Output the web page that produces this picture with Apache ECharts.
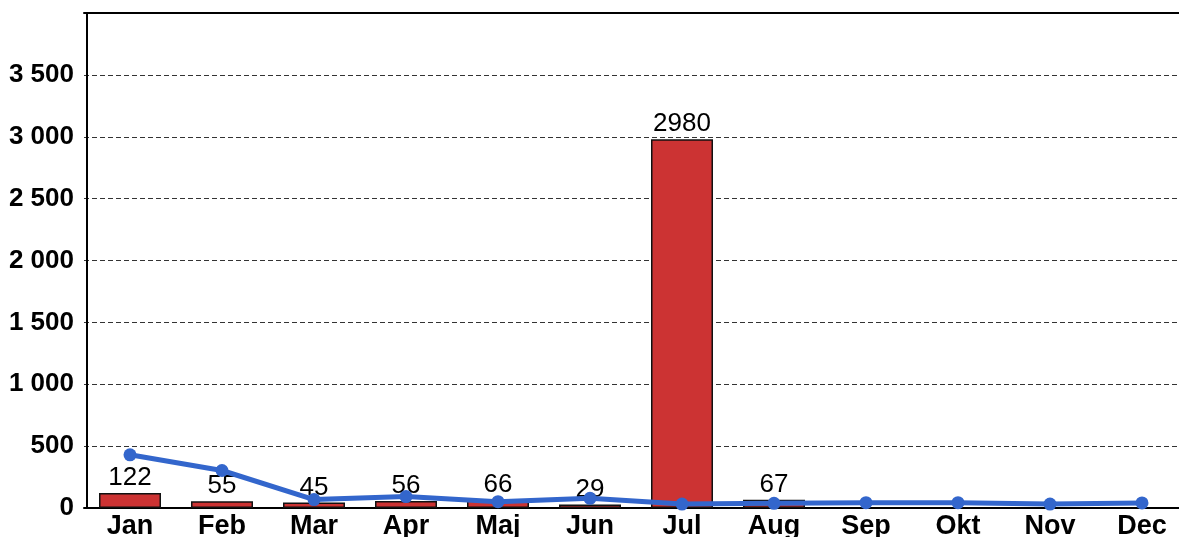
<!DOCTYPE html>
<html>
<head>
<meta charset="utf-8">
<script src="https://cdn.jsdelivr.net/npm/echarts@6/dist/echarts.min.js"></script>
<style>
  html, body { margin: 0; padding: 0; background: #fff; }
  #chart { width: 1179px; height: 537px; }
</style>
</head>
<body>
<div id="chart"></div>
<script>
var months = ['Jan', 'Feb', 'Mar', 'Apr', 'Maj', 'Jun', 'Jul', 'Aug', 'Sep', 'Okt', 'Nov', 'Dec'];
var barValues = [122, 55, 45, 56, 66, 29, 2980, 67, null, null, null, null];
var lineValues = [430, 303, 68, 92, 51, 78, 32, 38, 43, 43, 32, 41];

var chart = echarts.init(document.getElementById('chart'));
var font = 'Liberation Sans, Arial, sans-serif';

chart.setOption({
  animation: false,
  grid: { left: 84, width: 1104, top: 13, bottom: 29, outerBoundsMode: 'none' },
  xAxis: [
    {
      type: 'category',
      data: months,
      axisLine: { lineStyle: { color: '#000', width: 2 } },
      axisTick: { show: false },
      axisLabel: {
        color: '#000', fontWeight: 'bold', fontSize: 27,
        fontFamily: font, margin: 5
      }
    },
    {
      type: 'category',
      data: months,
      position: 'top',
      axisLine: { lineStyle: { color: '#000', width: 2 } },
      axisTick: { show: false },
      axisLabel: { show: false }
    }
  ],
  yAxis: {
    type: 'value',
    min: 0,
    max: 4000,
    interval: 500,
    offset: -3,
    axisLine: { show: true, lineStyle: { color: '#000', width: 2 } },
    axisTick: { show: false },
    axisLabel: {
      color: '#000', fontWeight: 'bold', fontSize: 26, fontFamily: font, margin: 13,
      formatter: function (v) {
        if (v >= 4000) return '';
        return String(v).replace(/\B(?=(\d{3})+(?!\d))/g, ' ');
      }
    },
    splitLine: {
      lineStyle: { color: '#333', type: [5, 3], width: 1 }
    }
  },
  series: [
    {
      type: 'bar',
      data: barValues,
      barWidth: 62,
      itemStyle: { color: '#cc3333', borderColor: '#111', borderWidth: 1.5 },
      label: {
        show: true, position: 'top', distance: 2,
        color: '#000', fontSize: 26, fontFamily: font
      }
    },
    {
      type: 'line',
      data: lineValues,
      symbol: 'circle',
      symbolSize: 13,
      lineStyle: { color: '#3366cc', width: 5 },
      itemStyle: { color: '#3366cc' },
      z: 3
    }
  ]
});
</script>
</body>
</html>
